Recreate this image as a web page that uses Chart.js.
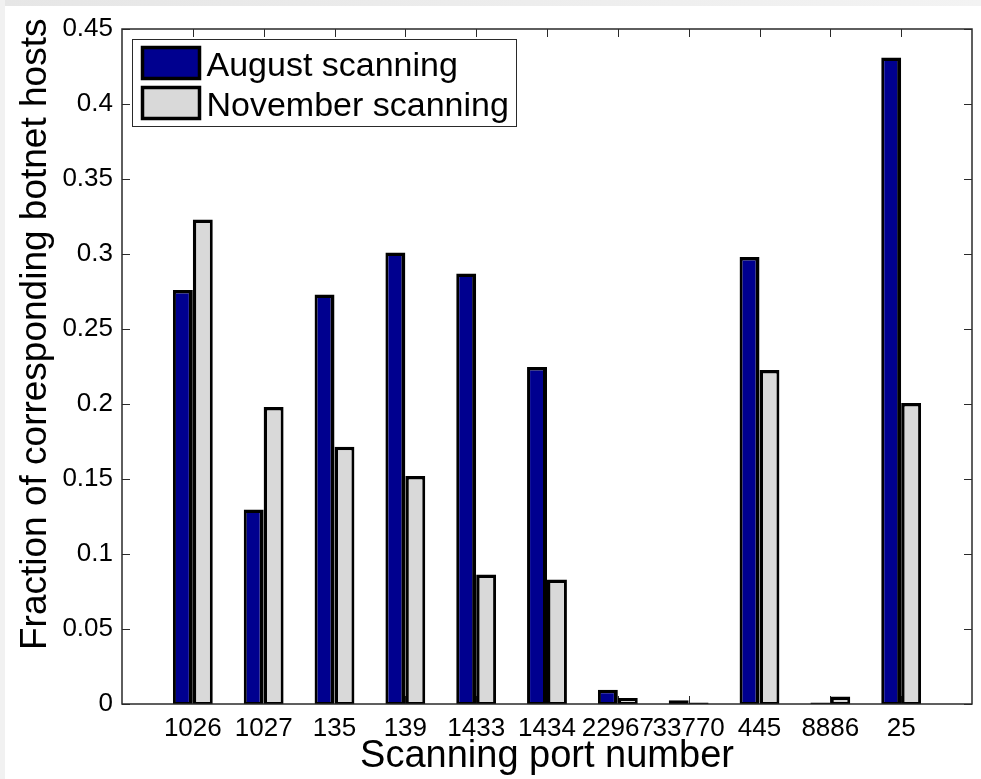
<!DOCTYPE html>
<html>
<head>
<meta charset="utf-8">
<script src="https://cdn.jsdelivr.net/npm/chart.js@4"></script>
<style>
  html, body { margin: 0; padding: 0; background: #fff; }
  #wrap { width: 981px; height: 779px; position: relative; }
</style>
</head>
<body>
<div id="wrap"><canvas id="c" width="981" height="779"></canvas></div>
<script>
// Scanning ports and the fraction of corresponding botnet hosts per month
const ports = ['1026', '1027', '135', '139', '1433', '1434', '22967', '33770', '445', '8886', '25'];
const augustScanning   = [0.276, 0.1296, 0.273, 0.301, 0.287, 0.2247, 0.0095, 0.0025, 0.298, 0.001, 0.431];
const novemberScanning = [0.323, 0.198, 0.1715, 0.152, 0.0864, 0.083, 0.004, 0.001, 0.2227, 0.005, 0.2007];
const seriesNames = ['August scanning', 'November scanning'];
const yTickValues = [0, 0.05, 0.1, 0.15, 0.2, 0.25, 0.3, 0.35, 0.4, 0.45];

const FONT = '"Liberation Sans", Arial, Helvetica, sans-serif';
const AXIS_COLOR = '#2a2a2a';
const TICK_LEN = 8;

// light window edge along the top and left of the figure
const figureBackground = {
  id: 'figureBackground',
  beforeDraw(chart) {
    const { ctx, width, height } = chart;
    ctx.save();
    ctx.fillStyle = '#ffffff';
    ctx.fillRect(0, 0, width, height);
    const g = ctx.createLinearGradient(0, 0, width, 0);
    g.addColorStop(0, '#e6e6e6');
    g.addColorStop(1, '#f3f3f3');
    ctx.fillStyle = g;
    ctx.fillRect(0, 0, width, 6);
    ctx.fillStyle = '#f1f1f1';
    ctx.fillRect(0, 0, 5, height);
    ctx.restore();
  }
};

// box around the axes with inward-pointing tick marks on all four sides
const axesBox = {
  id: 'axesBox',
  beforeDatasetsDraw(chart) {
    const { ctx, chartArea: a, scales } = chart;
    ctx.save();
    ctx.strokeStyle = AXIS_COLOR;
    ctx.lineWidth = 1;
    ctx.beginPath();
    for (let i = 1; i <= ports.length; i++) {
      const x = Math.round(scales.x.getPixelForValue(i)) + 0.5;
      ctx.moveTo(x, a.top); ctx.lineTo(x, a.top + TICK_LEN);
      ctx.moveTo(x, a.bottom); ctx.lineTo(x, a.bottom - TICK_LEN);
    }
    yTickValues.forEach(v => {
      const y = Math.round(scales.y.getPixelForValue(v)) + 0.5;
      ctx.moveTo(a.left, y); ctx.lineTo(a.left + TICK_LEN, y);
      ctx.moveTo(a.right, y); ctx.lineTo(a.right - TICK_LEN, y);
    });
    ctx.stroke();
    ctx.restore();
  },
  afterDatasetsDraw(chart) {
    const { ctx, chartArea: a } = chart;
    ctx.save();
    ctx.strokeStyle = AXIS_COLOR;
    ctx.lineWidth = 1.5;
    ctx.strokeRect(a.left, a.top, a.right - a.left, a.bottom - a.top);
    ctx.restore();
  }
};

// legend drawn inside the axes, top-left corner
const insideLegend = {
  id: 'insideLegend',
  afterDraw(chart) {
    const { ctx, chartArea: a } = chart;
    const bx = a.left + 10.5, by = a.top + 10.5, bw = 384, bh = 87;
    ctx.save();
    ctx.fillStyle = '#fff';
    ctx.fillRect(bx, by, bw, bh);
    ctx.strokeStyle = AXIS_COLOR;
    ctx.lineWidth = 1;
    ctx.strokeRect(bx, by, bw, bh);
    ctx.font = '34px ' + FONT;
    ctx.textBaseline = 'alphabetic';
    ctx.textAlign = 'left';
    chart.data.datasets.forEach((ds, i) => {
      const sy = by + 8 + i * 40;
      ctx.fillStyle = ds.backgroundColor;
      ctx.fillRect(bx + 10, sy, 57, 31);
      ctx.strokeStyle = '#000';
      ctx.lineWidth = 3.5;
      ctx.strokeRect(bx + 10, sy, 57, 31);
      ctx.fillStyle = '#000';
      ctx.fillText(ds.label, bx + 74, sy + 28);
    });
    ctx.restore();
  }
};

// rotated y-axis title, anchored near the bottom of the axes
const yTitle = {
  id: 'yTitle',
  afterDraw(chart) {
    const { ctx } = chart;
    ctx.save();
    ctx.translate(46, 650);
    ctx.rotate(-Math.PI / 2);
    ctx.font = '37px ' + FONT;
    ctx.fillStyle = '#000';
    ctx.textAlign = 'left';
    ctx.textBaseline = 'alphabetic';
    ctx.fillText('Fraction of corresponding botnet hosts', 0, 0);
    ctx.restore();
  }
};

const toPoints = arr => arr.map((v, i) => ({ x: i + 1, y: v }));

new Chart(document.getElementById('c'), {
  type: 'bar',
  data: {
    datasets: [
      {
        label: seriesNames[0],
        data: toPoints(augustScanning),
        backgroundColor: '#00008f',
        borderColor: '#000',
        borderWidth: { left: 3, right: 4, top: 3.5, bottom: 2 },
        borderSkipped: false
      },
      {
        label: seriesNames[1],
        data: toPoints(novemberScanning),
        backgroundColor: '#d9d9d9',
        borderColor: '#000',
        borderWidth: { left: 3.5, right: 3, top: 3.5, bottom: 2 },
        borderSkipped: false
      }
    ]
  },
  options: {
    responsive: false,
    animation: false,
    devicePixelRatio: 1,
    categoryPercentage: 0.5625,
    barPercentage: 1,
    layout: { padding: { top: 29, right: 6, left: 0, bottom: 0 } },
    plugins: {
      legend: { display: false },
      tooltip: { enabled: false }
    },
    scales: {
      x: {
        type: 'linear',
        min: 0,
        max: ports.length + 1,
        offset: false,
        grid: { display: false, drawTicks: false },
        border: { display: false },
        ticks: {
          stepSize: 1,
          autoSkip: false,
          maxRotation: 0,
          minRotation: 0,
          padding: 9,
          color: '#000',
          font: { family: FONT, size: 26 },
          callback: v => ports[v - 1] ?? ''
        },
        title: {
          display: true,
          text: 'Scanning port number',
          color: '#000',
          font: { family: FONT, size: 38 },
          padding: { top: 0, bottom: 0 }
        },
        afterFit(scale) { scale.height = 75; }
      },
      y: {
        min: 0,
        max: 0.45,
        grid: { display: false, drawTicks: false },
        border: { display: false },
        ticks: {
          stepSize: 0.05,
          padding: 9,
          color: '#000',
          font: { family: FONT, size: 26 },
          callback: v => String(Number(v.toFixed(2)))
        },
        afterFit(scale) { scale.width = 122; }
      }
    }
  },
  plugins: [figureBackground, axesBox, insideLegend, yTitle]
});
</script>
</body>
</html>
